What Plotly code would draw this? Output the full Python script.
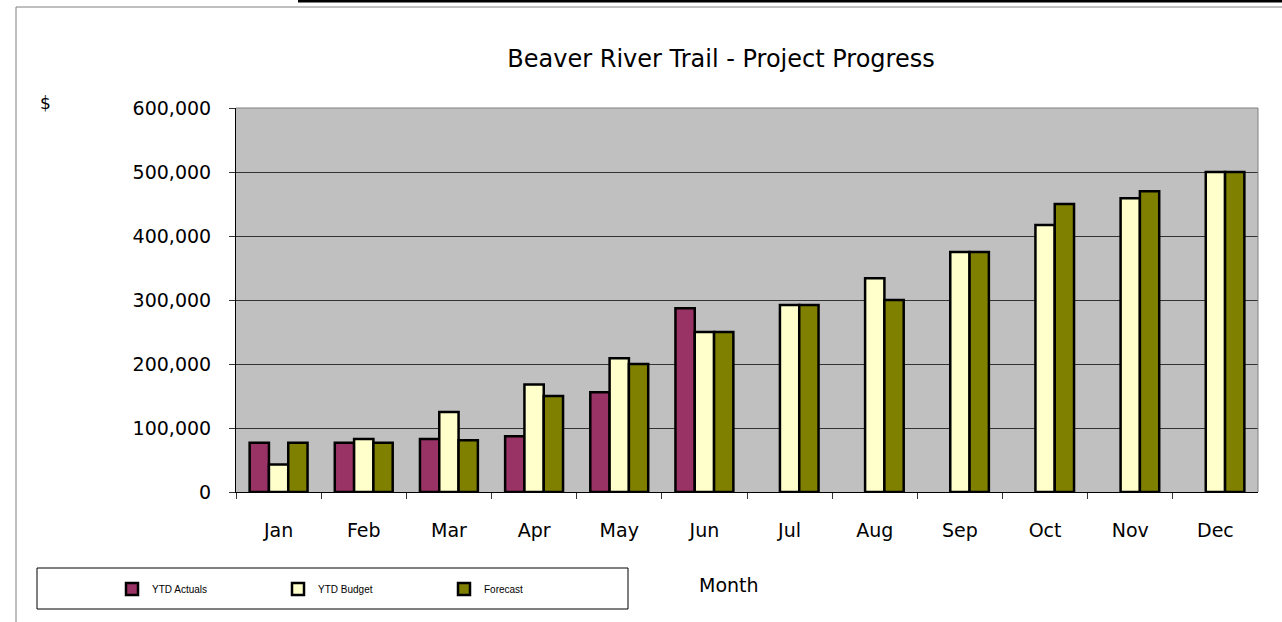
import plotly.graph_objects as go

months = ["Jan", "Feb", "Mar", "Apr", "May", "Jun", "Jul", "Aug", "Sep", "Oct", "Nov", "Dec"]
ytd_actuals = [77000, 77000, 83000, 87000, 156000, 287000, None, None, None, None, None, None]
ytd_budget = [43000, 83000, 125000, 168000, 209000, 250000, 292000, 334000, 375000, 417000, 459000, 500000]
forecast = [77000, 77000, 81000, 150000, 200000, 250000, 292000, 300000, 375000, 450000, 470000, 500000]
y_ticks = [0, 100000, 200000, 300000, 400000, 500000, 600000]
y_tick_labels = ["0", "100,000", "200,000", "300,000", "400,000", "500,000", "600,000"]

W, H = 1282, 622
FONT = "DejaVu Sans"

fig = go.Figure()
for name, vals, col in [("YTD Actuals", ytd_actuals, "#993366"),
                        ("YTD Budget", ytd_budget, "#FFFFCC"),
                        ("Forecast", forecast, "#808000")]:
    fig.add_trace(go.Bar(x=months, y=vals, name=name,
                         marker=dict(color=col, line=dict(color="black", width=2.5))))

def px_x(p):
    return p / W

def px_y(p):
    return 1 - p / H

fig.update_layout(
    width=W, height=H,
    margin=dict(l=0, r=0, t=0, b=0),
    paper_bgcolor="white",
    plot_bgcolor="#C0C0C0",
    barmode="group", bargap=0.32, bargroupgap=0,
    font=dict(family=FONT, color="black"),
    title=dict(text="Beaver River Trail - Project Progress", x=721 / W, xanchor="center",
               y=px_y(59), yanchor="middle", font=dict(size=24, family=FONT)),
    xaxis=dict(domain=[px_x(236), px_x(1258)], showgrid=False, ticks="outside", ticklen=6,
               tickson="boundaries", tickcolor="#333", showline=True, linecolor="black", linewidth=1,
               tickfont=dict(size=19), ticklabelstandoff=21, automargin=False,
               range=[-0.5, 11.5], mirror=False),
    yaxis=dict(domain=[px_y(492), px_y(108)], range=[0, 600000], tickvals=y_ticks,
               ticktext=y_tick_labels, showgrid=True, gridcolor="#333333", gridwidth=1,
               ticks="outside", ticklen=6, tickcolor="#333", showline=True, linecolor="black",
               linewidth=1, tickfont=dict(size=19), ticklabelstandoff=14, automargin=False,
               zeroline=False),
    legend=dict(orientation="h", x=px_x(112), y=px_y(589), xanchor="left", yanchor="middle",
                font=dict(size=10, family="Liberation Sans"), entrywidth=121, entrywidthmode="pixels",
                bgcolor="rgba(0,0,0,0)", borderwidth=0, traceorder="normal"),
    showlegend=True,
    annotations=[
        dict(text="$", x=px_x(45), y=px_y(103), xref="paper", yref="paper", showarrow=False,
             font=dict(size=17, family=FONT), xanchor="center", yanchor="middle"),
        dict(text="Month", x=px_x(729), y=px_y(585), xref="paper", yref="paper", showarrow=False,
             font=dict(size=19, family=FONT), xanchor="center", yanchor="middle"),
    ],
    shapes=[
        dict(type="line", xref="paper", yref="paper", x0=px_x(236), x1=px_x(1258), y0=px_y(108), y1=px_y(108),
             line=dict(color="#808080", width=1)),
        dict(type="line", xref="paper", yref="paper", x0=px_x(1258), x1=px_x(1258), y0=px_y(108), y1=px_y(492),
             line=dict(color="#808080", width=1)),
        dict(type="line", xref="paper", yref="paper", x0=px_x(16), x1=px_x(16), y0=px_y(7), y1=0,
             line=dict(color="#808080", width=1)),
        dict(type="line", xref="paper", yref="paper", x0=px_x(16), x1=1, y0=px_y(7), y1=px_y(7),
             line=dict(color="#808080", width=1)),
        dict(type="line", xref="paper", yref="paper", x0=px_x(298), x1=1, y0=px_y(1), y1=px_y(1),
             line=dict(color="black", width=3)),
        dict(type="rect", xref="paper", yref="paper", x0=px_x(37), x1=px_x(628), y0=px_y(568), y1=px_y(609),
             line=dict(color="black", width=1), fillcolor="rgba(0,0,0,0)"),
    ],
)

fig.write_html("out.html", config={"displayModeBar": False},
               post_script="document.body.style.margin='0';document.body.style.overflow='hidden';")
